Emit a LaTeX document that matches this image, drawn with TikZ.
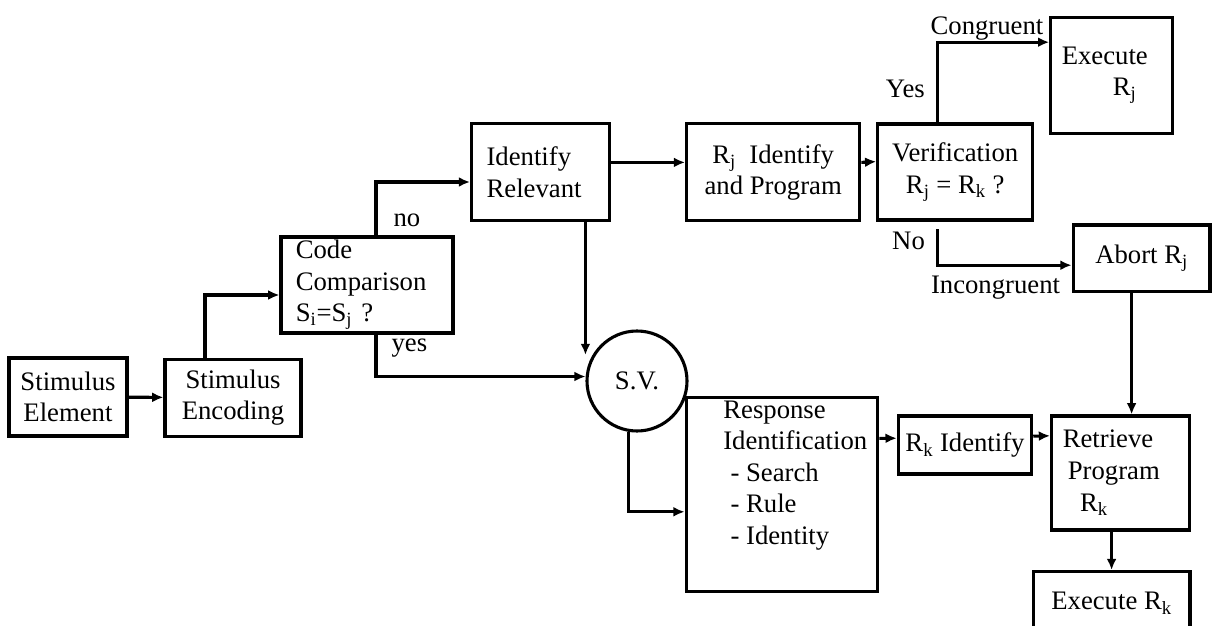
\documentclass[tikz,border=0pt]{standalone}
\usepackage{fontspec}
\setmainfont{Liberation Serif}
\usepackage{tikz}
\usetikzlibrary{arrows.meta, positioning, calc}

\newcommand{\diagfont}{\fontsize{19}{22.5}\selectfont}

\begin{document}
\begin{tikzpicture}[
	>={Latex[length=8pt, width=7pt]},
	block/.style={rectangle, draw=black, line width=2.2pt, align=center, font=\diagfont, inner sep=0pt},
	leftblock/.style={block, align=left},
	junction/.style={circle, draw=black, line width=2.2pt, minimum size=2.5cm, inner sep=0pt, font=\diagfont},
	arrow/.style={->, line width=2.2pt, color=black},
	lbl/.style={font=\diagfont, inner sep=0pt}
	]
	
	\useasboundingbox (0,0) rectangle (30.3,-15.65);
	
	% --- Stimulus side ---
	\node[block, minimum width=2.95cm, minimum height=1.95cm] (stimel) at (1.70, -9.925) {Stimulus\\Element};
	\node[block, minimum width=3.4cm, minimum height=1.925cm] (stimenc) at (5.825, -9.94) {Stimulus\\Encoding};
	\node[leftblock, text width=3.56cm, minimum width=4.3cm, minimum height=2.4cm] (codecmp) at (9.175, -7.125) {Code\\Comparison\\S\textsubscript{i}=S\textsubscript{j} ?};
	
	% --- Upper row: R_j ---
	\node[leftblock, text width=2.69cm, minimum width=3.44cm, minimum height=2.425cm] (idrel) at (13.51, -4.31) {Identify\\Relevant};
	\node[block, minimum width=4.33cm, minimum height=2.425cm] (rjprog) at (19.33, -4.31) {R\textsubscript{j}\enspace Identify\\and Program};
	\node[block, minimum width=3.87cm, minimum height=2.4cm] (verif) at (23.88, -4.30) {Verification\\R\textsubscript{j} = R\textsubscript{k} ?};
	\node[leftblock, text width=2.49cm, minimum width=3.04cm, minimum height=2.9cm] (exrj) at (27.79, -1.88) {Execute\\\hspace*{1.275cm}R\textsubscript{j}};
	\node[block, minimum width=3.42cm, minimum height=1.67cm] (abort) at (28.54, -6.46) {Abort R\textsubscript{j}};
	
	% --- Lower row: R_k ---
	\node[junction] (sv) at (15.925, -9.525) {S.V.};
	\node[block, minimum width=4.79cm, minimum height=4.85cm] (respid) at (19.55, -12.37) {};
	\node[lbl, align=left, anchor=north west] (respidtext) at ([xshift=0.96cm, yshift=-0.1cm]respid.north west) {Response\\Identification\\\hspace*{0.18cm}- Search\\\hspace*{0.18cm}- Rule\\\hspace*{0.18cm}- Identity};
	\node[block, minimum width=3.335cm, minimum height=1.45cm] (rkid) at (24.125, -11.125) {R\textsubscript{k} Identify};
	\node[leftblock, text width=2.88cm, minimum width=3.44cm, minimum height=2.85cm] (retr) at (28.01, -11.825) {Retrieve\\\hspace*{0.125cm}Program\\\hspace*{0.43cm}R\textsubscript{k}};
	\node[block, minimum width=3.92cm, minimum height=1.58cm] (exrk) at (27.79, -15.08) {Execute R\textsubscript{k}};
	
	% --- Encoding and comparison ---
	\draw[arrow] (stimel) -- (stimenc);
	\draw[arrow] ([xshift=-0.7cm]stimenc.north) |- ([yshift=-0.25cm]codecmp.west);
	\draw[arrow] ([xshift=0.225cm]codecmp.north) |- ([yshift=-0.24cm]idrel.west) node[lbl, pos=0.145, right=0.4cm] {no};
	\draw[arrow] ([xshift=0.225cm]codecmp.south) |- (sv.175) node[lbl, pos=0.156, right=0.35cm] {yes};
	
	% --- R_j path ---
	\draw[arrow] ([yshift=0.25cm]idrel.east) -- ([yshift=0.25cm]rjprog.west);
	\draw[arrow] ([yshift=0.25cm]rjprog.east) -- ([yshift=0.26cm]verif.west);
	\draw[arrow] ([xshift=-0.45cm]verif.north) |- ([yshift=0.825cm]exrj.west)
		node[lbl, pos=0.208, left=0.27cm] {Yes}
		node[lbl, pos=0.722, above=0.02cm] {Congruent};
	\draw[arrow] ([xshift=-0.45cm, yshift=-0.19cm]verif.south) |- ([yshift=-0.17cm]abort.west)
		node[lbl, pos=0.165, left=0.27cm] {No}
		node[lbl, pos=0.717, below=0.22cm] {Incongruent};
	\draw[arrow] ([xshift=-0.25cm]abort.south) -- ([xshift=-0.25cm]abort.south |- retr.north);
	
	% --- S.V. and R_k path ---
	\draw[arrow] (sv.west |- idrel.south) -- ([yshift=0.65cm]sv.west);
	\draw[arrow] (sv.260) |- ([yshift=-0.425cm]respid.west);
	\draw[arrow] ([yshift=1.41cm]respid.east) -- ([yshift=0.17cm]rkid.west);
	\draw[arrow] ([yshift=0.22cm]rkid.east) -- ([yshift=0.93cm]retr.west);
	\draw[arrow] (exrk.north |- retr.south) -- (exrk.north);
	
\end{tikzpicture}
\end{document}
